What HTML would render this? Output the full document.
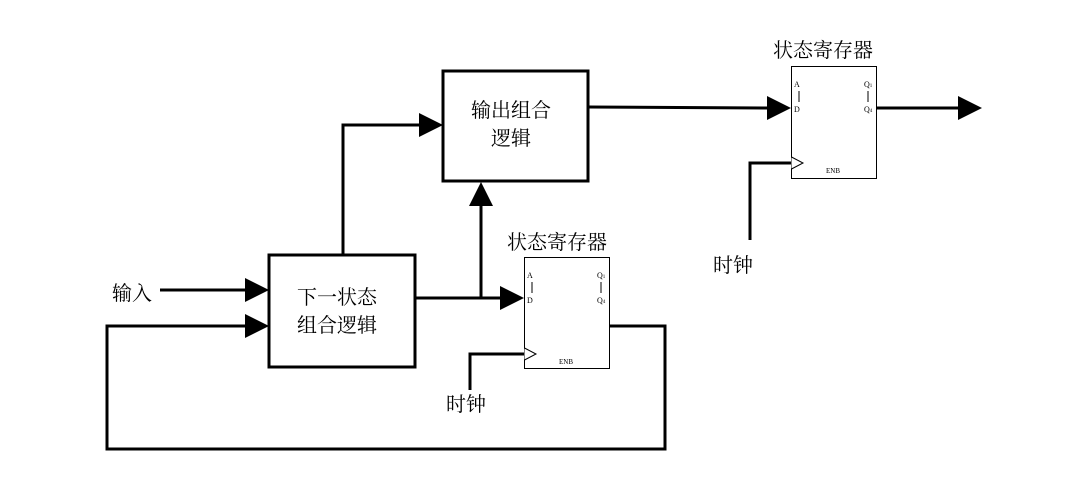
<!DOCTYPE html>
<html><head><meta charset="utf-8"><style>
html,body{margin:0;padding:0;background:#fff;width:1082px;height:494px;overflow:hidden}
text{font-family:"Liberation Serif","Noto Serif CJK SC","Noto Sans CJK SC",serif;fill:#000}
</style></head><body>
<svg width="1082" height="494" viewBox="0 0 1082 494" xmlns="http://www.w3.org/2000/svg">
<g fill="none" stroke="#000" stroke-width="3">
<rect x="269" y="255" width="146" height="112"/>
<rect x="443" y="71" width="145" height="110"/>
<polyline points="160,290 247,290"/>
<polyline points="609,326 665,326 665,449 107,449 107,326 247,326"/>
<polyline points="343,255 343,125 421,125"/>
<polyline points="415,298 502,298"/>
<polyline points="481,298 481,203"/>
<polyline points="470,390 470,354 524,354"/>
<polyline points="588,107 769,108"/>
<polyline points="876,108 960,108"/>
<polyline points="750,240 750,163 791,163"/>
</g>
<g fill="#000">
<polygon points="245,278 269,290 245,302"/>
<polygon points="245,314 269,326 245,338"/>
<polygon points="419,113 443,125 419,137"/>
<polygon points="500,286 524,298 500,310"/>
<polygon points="469,206 481,182 493,206"/>
<polygon points="767,96 791,108 767,120"/>
<polygon points="958,96 982,108 958,120"/>
</g>
<g fill="#fff" stroke="#000" stroke-width="1">
<rect x="524.5" y="257.5" width="85" height="111"/>
<rect x="791.5" y="66.5" width="85" height="112"/>
<polyline points="524.5,348 536,354 524.5,360"/>
<polyline points="791.5,157 803,163 791.5,169"/>
<line x1="532" y1="282" x2="532" y2="293"/>
<line x1="601" y1="282" x2="601" y2="293"/>
<line x1="799" y1="91" x2="799" y2="102"/>
<line x1="868" y1="91" x2="868" y2="102"/>
</g>
<g font-size="8">
<text x="527" y="278">A</text><text x="527" y="303">D</text>
<text x="597" y="278">Q<tspan font-size="5">1</tspan></text><text x="597" y="303">Q<tspan font-size="5">4</tspan></text>
<text x="559" y="364" font-size="7">ENB</text>
<text x="794" y="87">A</text><text x="794" y="112">D</text>
<text x="864" y="87">Q<tspan font-size="5">1</tspan></text><text x="864" y="112">Q<tspan font-size="5">4</tspan></text>
<text x="826" y="173" font-size="7">ENB</text>
</g>
<g font-size="20">
<text x="297" y="304">下一状态</text>
<text x="297" y="332">组合逻辑</text>
<text x="471" y="117">输出组合</text>
<text x="491" y="145">逻辑</text>
<text x="112" y="300">输入</text>
<text x="507" y="249">状态寄存器</text>
<text x="773" y="57">状态寄存器</text>
<text x="446" y="411">时钟</text>
<text x="713" y="272">时钟</text>
</g>
</svg>
</body></html>
